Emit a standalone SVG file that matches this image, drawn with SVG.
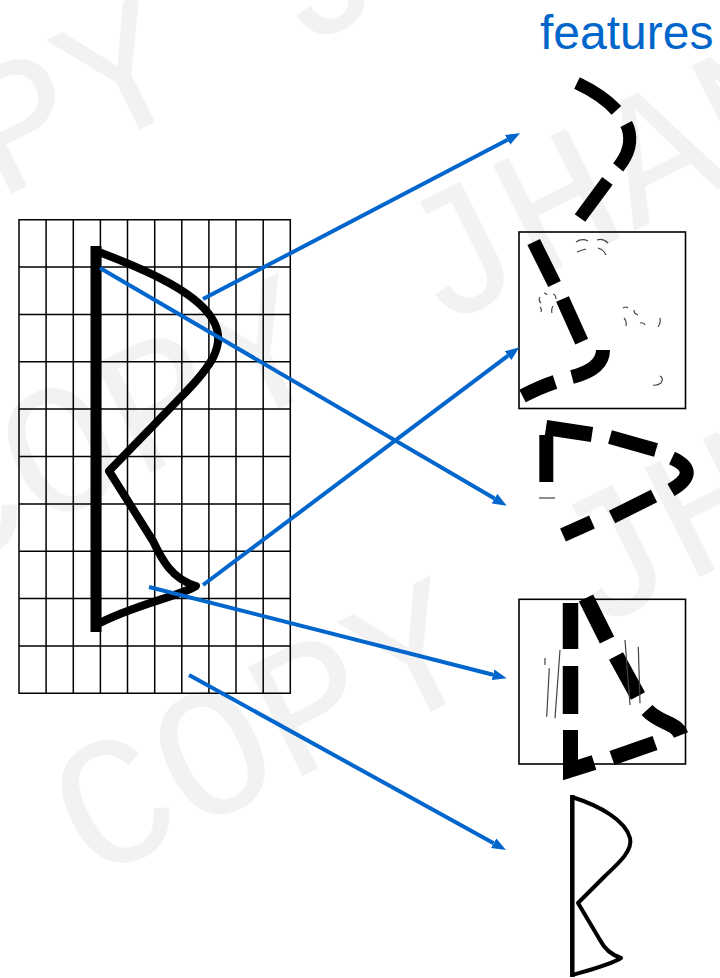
<svg xmlns="http://www.w3.org/2000/svg" width="720" height="978" viewBox="0 0 720 978">
<style>
.wm{font-family:"Liberation Mono","DejaVu Sans Mono",monospace;font-size:185px;fill:#f2f2f2}
.grid{fill:none;stroke:#000;stroke-width:1.5}
.thick{fill:none;stroke:#000;stroke-linecap:butt}
.thin{fill:none;stroke:#444;stroke-width:1.2}
.arrow{fill:none;stroke:#0066cc;stroke-width:4}
.box{fill:none;stroke:#000;stroke-width:1.6}
.label{font-family:"Liberation Sans",Arial,sans-serif;font-size:48px;fill:#0066cc}
</style>
<defs>
<marker id="ah" markerUnits="userSpaceOnUse" markerWidth="16" markerHeight="12" refX="0" refY="5.5" orient="auto">
<path d="M0,0 L14,5.5 L0,11 z" fill="#0066cc"/>
</marker>
</defs>
<rect width="720" height="978" fill="#fff"/>
<g id="watermark">
<text class="wm" transform="translate(91,882) rotate(-26.6)">COPY JHANG</text>
<text class="wm" transform="translate(-61,579) rotate(-26.6)">COPY JHANG</text>
<text class="wm" transform="translate(-200,300) rotate(-26.6)">COPY JHANG</text>
</g>
<g id="grid">
<path class="grid" d="M19,219.7H290.3V693.3H19Z M46.1,219.7V693.3 M73.3,219.7V693.3 M100.4,219.7V693.3 M127.5,219.7V693.3 M154.7,219.7V693.3 M181.8,219.7V693.3 M208.9,219.7V693.3 M236,219.7V693.3 M263.2,219.7V693.3 M19,267.1H290.3 M19,314.4H290.3 M19,361.8H290.3 M19,409.1H290.3 M19,456.5H290.3 M19,503.9H290.3 M19,551.2H290.3 M19,598.6H290.3 M19,645.9H290.3"/>
</g>
<g id="letter">
<path class="thick" stroke-width="8" stroke-linejoin="round" d="M96,251 C 150,271 200,294 214,322 C 226,345 212,366 180,398 L 109,471 L 153,541 C 162,560 172,579 196,586 C 180,596 130,606 96,625"/>
<line class="thick" stroke-width="11" x1="96" y1="246" x2="96" y2="632"/>
</g>
<g id="label">
<text class="label" x="540" y="49">features</text>
</g>
<g id="feature1">
<path class="thick" stroke-width="13" stroke-dasharray="48 17 47 17 60" d="M577,83 Q 617,102 628,128 Q 635,150 614,172 L 580,218"/>
</g>
<g id="feature2">
<rect class="box" x="519" y="232" width="166.5" height="176.5"/>
<line class="thick" stroke-width="14" x1="533.7" y1="242" x2="554.5" y2="284"/>
<line class="thick" stroke-width="14" x1="562.5" y1="299" x2="581.7" y2="341.7"/>
<path class="thick" stroke-width="14" d="M572,377 Q 603,369 603,350"/>
<path class="thick" stroke-width="14" d="M522.5,396 Q 540,387 555,382"/>
<path class="thin" d="M576,242 Q 582,238 588,241 M597,240 Q 603,238 608,243 M577,252 Q 582,250 586,249 M598,248 Q 604,250 606,255 M540,297 Q 538,300 541,303 M544,293 Q 546,293 547,295 M540,307 Q 542,309 541,312 M553,294 Q 556,295 556,299 M553,306 Q 551,309 552,313 M623,308 Q 626,306 628,308 M634,310 Q 634,314 638,315 M624,318 Q 627,321 626,326 M640,323 Q 644,322 645,325 M660,318 Q 661,323 658,327 M660,376 Q 664,378 661,383 Q 657,386 653,385"/>
</g>
<g id="feature3">
<line class="thick" stroke-width="14" x1="546.3" y1="435" x2="546.3" y2="482"/>
<line class="thick" stroke-width="15" x1="546" y1="427.5" x2="592" y2="434.5"/>
<line class="thin" stroke="#000" stroke-width="1.5" x1="539" y1="498" x2="555" y2="498"/>
<line class="thick" stroke-width="14" x1="610" y1="437" x2="656" y2="450"/>
<path class="thick" stroke-width="14" d="M672,458 Q 702,472 671,490"/>
<line class="thick" stroke-width="14" x1="654" y1="496" x2="612" y2="517"/>
<line class="thick" stroke-width="14" x1="592" y1="522" x2="563" y2="535"/>
</g>
<g id="feature4">
<rect class="box" x="519" y="599.3" width="166.5" height="164.7"/>
<line class="thick" stroke-width="15.5" x1="570.5" y1="603" x2="570.5" y2="649"/>
<line class="thick" stroke-width="15.5" x1="570.5" y1="666" x2="570.5" y2="714"/>
<path class="thick" stroke-width="15" stroke-linejoin="miter" d="M570.5,730 L570.5,770 L594,762.5"/>
<line class="thick" stroke-width="16" x1="586" y1="598" x2="607" y2="640"/>
<line class="thick" stroke-width="16" x1="616" y1="656" x2="638" y2="696"/>
<path class="thick" stroke-width="15" d="M647,710 C 660,724 676,722 681,735"/>
<line class="thick" stroke-width="15" x1="655" y1="743" x2="612" y2="758"/>
<path class="thin" d="M545,658 L545,665 M549.3,668.3 L546.7,716.7 M560,650 L555,718.3 M625,640 L630,705 M638.3,646.7 L640,703.3"/>
</g>
<g id="feature5">
<path class="thick" stroke-width="4" stroke-linejoin="round" d="M572,797 C 600,806 625,820 630,838 C 633,850 620,862 605,876 L 578,903 L 600,940 C 605,950 612,955 621,958 C 610,965 590,970 572,975"/>
<line class="thick" stroke-width="4.5" x1="572.3" y1="795" x2="572.3" y2="977"/>
</g>
<g id="connectors">
<line class="arrow" marker-end="url(#ah)" x1="203" y1="299" x2="507.6" y2="139.8"/>
<line class="arrow" marker-end="url(#ah)" x1="100" y1="268" x2="494.6" y2="498.6"/>
<line class="arrow" marker-end="url(#ah)" x1="203" y1="585" x2="508.1" y2="355.7"/>
<line class="arrow" marker-end="url(#ah)" x1="149" y1="587" x2="493.1" y2="674.8"/>
<line class="arrow" marker-end="url(#ah)" x1="189" y1="675" x2="493.7" y2="843.2"/>
</g>
</svg>
